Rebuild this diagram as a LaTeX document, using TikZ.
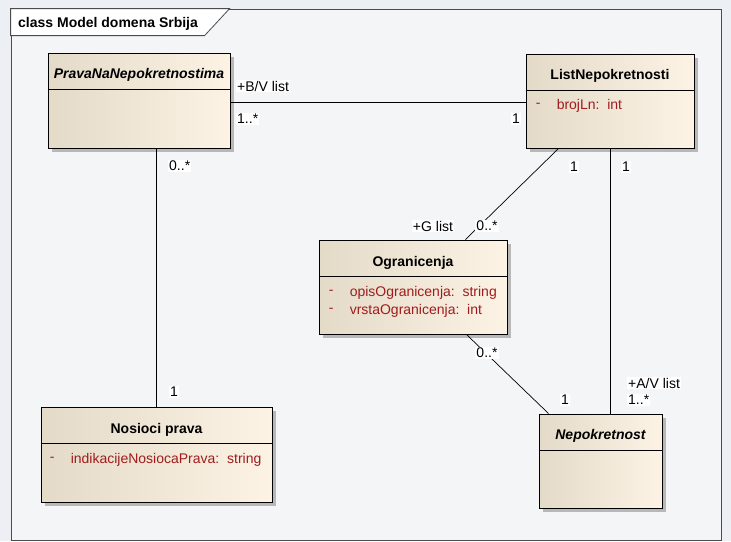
\documentclass[tikz,border=0pt]{standalone}
\usepackage{fontspec}
\setmainfont{Liberation Sans}
\usetikzlibrary{positioning,calc,shadows}
\definecolor{clsL}{RGB}{228,218,200}
\definecolor{clsR}{RGB}{252,243,229}
\definecolor{attrred}{RGB}{160,28,28}
\definecolor{diagbg}{RGB}{236,239,243}
\definecolor{framebg}{RGB}{243,245,247}

\begin{document}
\begin{tikzpicture}[x=1pt, y=-1pt,
  every node/.style={font=\fontsize{14}{16}\selectfont},
  classbox/.style={draw=black, line width=0.9pt, left color=clsL, right color=clsR, inner sep=0pt,
    drop shadow={shadow xshift=4pt, shadow yshift=-4pt, fill=black!28, opacity=1}},
  clsname/.style={font=\fontsize{14}{16}\selectfont\bfseries},
  absname/.style={font=\fontsize{14}{16}\selectfont\bfseries\itshape},
  attr/.style={anchor=west, inner sep=0pt, text=attrred},
  role/.style={fill=white, inner sep=1pt},
  assoc/.style={draw=black, line width=0.7pt}]
  \fill[diagbg] (0,0) rectangle (731,541);
  \useasboundingbox (0,0) rectangle (731,541);
  \node (frame) [draw=black!70, line width=0.8pt, fill=framebg, minimum width=710pt, minimum height=531pt, inner sep=0pt] at (366,274.5) {};
  \path[draw=black!70, line width=0.8pt, fill=white] (frame.north west) -- ++(219,0) -- ++(-25,27) -- ++(-194,0) -- cycle;
  \node (diagname) [anchor=west, inner sep=0pt, clsname] at (18,24) {class Model domena Srbija};

  \node (prava) [classbox, minimum width=182pt, minimum height=95pt] at (139,100.5) {};
  \node (list) [classbox, minimum width=168pt, minimum height=94pt] at (610,101) {};
  \node (ogr) [classbox, minimum width=188pt, minimum height=94pt] at (413,287) {};
  \node (nosioci) [classbox, minimum width=231pt, minimum height=95pt] at (156.5,454.5) {};
  \node (nepok) [classbox, minimum width=123pt, minimum height=94pt] at (600.5,461) {};
  \foreach \c in {prava,list,ogr,nosioci,nepok}
    \draw[line width=0.9pt] ($(\c.north west)+(0,37)$) -- ($(\c.north east)+(0,37)$);

  \node (pravaName) [absname] at ($(prava.north)+(0,22)$) {PravaNaNepokretnostima};
  \node (listName) [clsname] at ($(list.north)+(0,22)$) {ListNepokretnosti};
  \node (ogrName) [clsname] at ($(ogr.north)+(0,23)$) {Ogranicenja};
  \node (nosiociName) [clsname] at ($(nosioci.north)+(0,23)$) {Nosioci prava};
  \node (nepokName) [absname] at ($(nepok.north)+(0,22)$) {Nepokretnost};

  \node (listVis) [attr] at ($(list.north west)+(10,52)$) {-};
  \node (listA) [attr] at ($(list.north west)+(31,52)$) {brojLn:\ \ int};
  \node (ogrVis1) [attr] at ($(ogr.north west)+(10,53)$) {-};
  \node (ogrA1) [attr] at ($(ogr.north west)+(31,53)$) {opisOgranicenja:\ \ string};
  \node (ogrVis2) [attr] at ($(ogr.north west)+(10,71)$) {-};
  \node (ogrA2) [attr] at ($(ogr.north west)+(31,71)$) {vrstaOgranicenja:\ \ int};
  \node (nosVis) [attr] at ($(nosioci.north west)+(9,53)$) {-};
  \node (nosA) [attr] at ($(nosioci.north west)+(30,53)$) {indikacijeNosiocaPrava:\ \ string};

  \path[assoc]
    ($(prava.east)+(0,1.5)$) edge ($(list.west)+(0,1)$)
    (nosioci.north) edge (nosioci.north |- prava.south)
    (list.south) edge (list.south |- nepok.north)
    ($(list.south west)+(33,0)$) edge ($(ogr.north east)+(-42,0)$)
    ($(ogr.south east)+(-41,0)$) edge ($(nepok.north west)+(10,0)$);

  \node (bvRole) [role, anchor=west] at (236,86) {+B/V list};
  \node (bvMult) [role, anchor=west] at (236,119) {1..*};
  \node (bvOne) [role, anchor=east] at (521,119) {1};
  \node (nosMult) [role, anchor=west] at (168,166) {0..*};
  \node (nosOne) [role, anchor=west] at (169,392) {1};
  \node (glOne) [role] at (574,167) {1};
  \node (avOne) [role] at (626,167) {1};
  \node (gRole) [role] at (433,226) {+G list};
  \node (gMult) [role] at (487,226) {0..*};
  \node (ogrMult) [role] at (487,353) {0..*};
  \node (nepOne) [role] at (565,400) {1};
  \node (avRole) [role, anchor=west] at (627,383) {+A/V list};
  \node (avMult) [role, anchor=west] at (627,400) {1..*};
\end{tikzpicture}
\end{document}
